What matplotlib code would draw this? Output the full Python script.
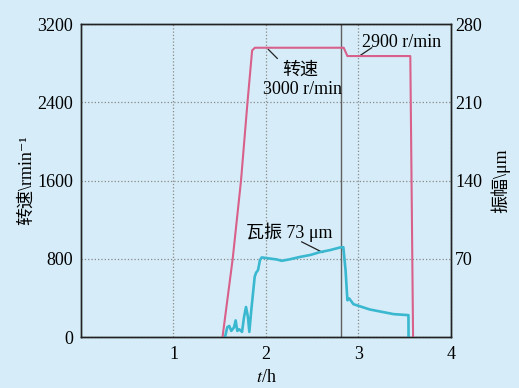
import matplotlib
matplotlib.use("Agg")
import matplotlib.pyplot as plt

plt.rcParams['font.family'] = ['Liberation Serif', 'Noto Sans CJK SC', 'DejaVu Sans']
plt.rcParams['mathtext.fontset'] = 'stix'

# speed curve (left axis)
speed_t = [1.53, 1.64, 1.73, 1.80, 1.85, 1.88, 2.84, 2.88, 3.56, 3.59]
speed_v = [0, 800, 1600, 2400, 2930, 2958, 2958, 2873, 2873, 0]

# bearing vibration (right axis)
vib_t = [1.557, 1.582, 1.603, 1.625, 1.654, 1.672, 1.69, 1.711, 1.741, 1.762,
         1.784, 1.805, 1.82, 1.841, 1.863, 1.878, 1.892, 1.914, 1.935, 1.954,
         2.008, 2.116, 2.17, 2.25, 2.37, 2.48, 2.58, 2.69, 2.8, 2.836, 2.86,
         2.88, 2.90, 2.945, 3.12, 3.38, 3.54, 3.541]
vib_v = [0, 9, 10, 5.6, 8.7, 15, 5.6, 7, 4.7, 17.6,
         27, 18, 4.7, 24, 42, 54, 57.5, 60, 69, 71.3,
         70.7, 69.5, 68.3, 69.5, 71.8, 73.5, 76, 77.8, 80.2, 80.5, 60,
         33, 34.6, 29.5, 24.8, 20.6, 19.7, 0]

bg = '#d6edf9'
fig = plt.figure(figsize=(5.19, 3.88), dpi=100, facecolor=bg)
ax = fig.add_axes([0.156, 0.131, 0.713, 0.807], facecolor=bg)
ax2 = ax.twinx()

ax.set_xlim(0, 4)
ax.set_ylim(0, 3200)
ax2.set_ylim(0, 280)

ax.grid(True, color='#888888', linestyle=':', linewidth=0.9)
ax.axvline(2.81, color='#606060', linewidth=1.0)

ax.plot(speed_t, speed_v, color='#d8608a', linewidth=1.5, zorder=3)
ax2.plot(vib_t, vib_v, color='#3ab8d0', linewidth=1.9)

ax.set_xticks([1, 2, 3, 4])
ax.set_yticks([0, 800, 1600, 2400, 3200])
ax2.set_yticks([70, 140, 210, 280])
ax.tick_params(axis='x', length=0, pad=6, labelsize=13)
ax.tick_params(axis='y', length=0, pad=5.5, labelsize=13)
ax2.tick_params(axis='y', length=0, pad=3, labelsize=13)

for a in (ax, ax2):
    for s in a.spines.values():
        s.set_color('#222222')
        s.set_linewidth(1.0)

ax.set_xlabel('$t$/h', fontsize=13, labelpad=5)
ax.set_ylabel('转速\\rmin⁻¹', fontsize=13, labelpad=2,
              family=['Liberation Serif', 'Noto Sans CJK SC', 'DejaVu Sans'])
ax2.set_ylabel('振幅\\μm', fontsize=13, labelpad=6)

ax.text(2.368, 2730, '转速', fontsize=13, ha='center', va='center')
ax.text(2.4, 2535, '3000 r/min', fontsize=13, ha='center', va='center')
ax.plot([2.025, 2.122], [2941, 2849], color='#222222', linewidth=0.9)
ax.text(3.47, 3009, '2900 r/min', fontsize=13, ha='center', va='center')
ax.plot([3.009, 3.143], [2873, 2958], color='#222222', linewidth=0.9)
ax.text(2.25, 1077, '瓦振 73 μm', fontsize=13, ha='center', va='center')
ax.plot([2.386, 2.613], [974, 866], color='#222222', linewidth=0.9)

fig.savefig('out.png', dpi=100, facecolor=bg)
